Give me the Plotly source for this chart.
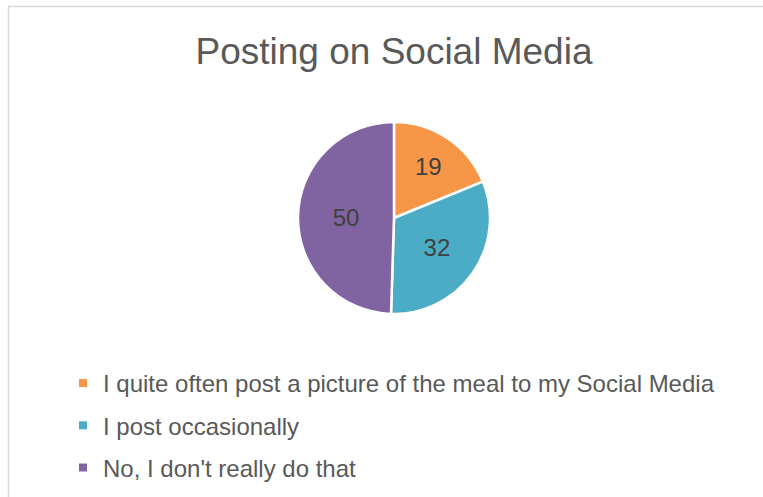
import plotly.graph_objects as go

title_text = "Posting on Social Media"
labels = [
    "I quite often post a picture of the meal to my Social Media",
    "I post occasionally",
    "No, I don't really do that",
]
values = [19, 32, 50]
colors = ["#F79646", "#4BACC6", "#8064A2"]

W, H = 763, 497
FONT = "Liberation Sans, Arial, sans-serif"

fig = go.Figure()

fig.add_trace(go.Pie(
    labels=labels,
    values=values,
    sort=False,
    direction="clockwise",
    rotation=0,
    marker=dict(colors=colors, line=dict(color="white", width=2.5)),
    textinfo="value",
    textposition="inside",
    insidetextorientation="horizontal",
    textfont=dict(family=FONT, size=24, color="#404040"),
    showlegend=False,
    domain=dict(x=[298 / W, 490 / W], y=[1 - 314 / H, 1 - 122 / H]),
    hoverinfo="label+value",
))

# legend entries (one per category, drawn by the library's legend)
for i, (lab, col) in enumerate(zip(labels, colors)):
    fig.add_trace(go.Scatter(
        x=[None], y=[None], mode="markers", name=lab,
        marker=dict(symbol="square", size=8, color=col),
        legendgroup=f"g{i}", showlegend=True, hoverinfo="skip",
    ))

fig.update_layout(
    width=W, height=H,
    margin=dict(l=0, r=0, t=0, b=0),
    paper_bgcolor="white", plot_bgcolor="white",
    xaxis=dict(visible=False), yaxis=dict(visible=False),
    title=dict(text=title_text, x=394 / W, xanchor="center",
               y=1 - 51 / H, yanchor="middle",
               font=dict(family=FONT, size=37, color="#595959")),
    legend=dict(orientation="v", x=63 / W, xanchor="left",
                y=1 - 361 / H, yanchor="top",
                font=dict(family=FONT, size=24, color="#595959"),
                tracegroupgap=8, itemsizing="trace",
                bgcolor="rgba(0,0,0,0)"),
    shapes=[dict(type="rect", xref="paper", yref="paper",
                 x0=8.5 / W, x1=1.05, y0=-0.05, y1=1 - 6.5 / H,
                 line=dict(color="#D9D9D9", width=1.5), layer="below")],
)

fig.write_html("out.html")
